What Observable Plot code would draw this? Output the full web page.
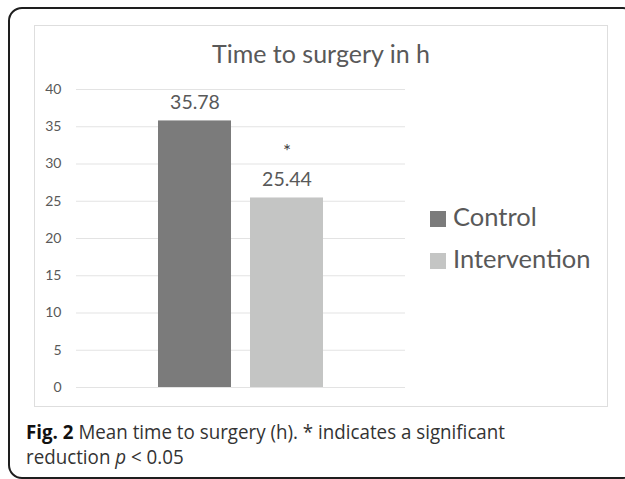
<!DOCTYPE html>
<html>
<head>
<meta charset="utf-8">
<script src="https://cdn.jsdelivr.net/npm/d3@7"></script>
<script src="https://cdn.jsdelivr.net/npm/@observablehq/plot@0.6"></script>
<style>
  html, body { margin: 0; padding: 0; background: #fff; }
  body { width: 625px; height: 479px; overflow: hidden; position: relative; }
  #outer { position: absolute; left: 8px; top: 7px; width: 629px; height: 472px; box-sizing: border-box;
           border: 2px solid #1e1e1e; border-radius: 14px; }
  #inner { position: absolute; left: 34px; top: 25px; width: 574px; height: 382px; box-sizing: border-box;
           border: 1px solid #dedede; background: #fff; }
  #title { position: absolute; left: 34px; top: 38px; width: 574px; text-align: center;
           font-family: Lato, sans-serif; font-size: 25px; line-height: 30px; color: #595959; white-space: nowrap; }
  #chart { position: absolute; left: 34px; top: 25px; }
  .leg { position: absolute; left: 430px; height: 30px; font-family: Lato, sans-serif; font-size: 25.5px;
         line-height: 30px; color: #595959; white-space: nowrap; }
  .sw { position: absolute; left: 0; top: 10px; width: 16px; height: 16px; }
  .lt { position: absolute; left: 23px; top: 0; }
  #caption { position: absolute; left: 26px; top: 419px; font-family: "Open Sans", sans-serif;
             font-size: 20px; line-height: 25px; color: #333; white-space: nowrap; transform-origin: 0 0; }
  #caption b { color: #111; font-weight: 700; }
</style>
</head>
<body>
<div id="outer"></div>
<div id="inner"></div>
<div id="title"></div>
<div id="chart"></div>
<div id="legend"></div>
<div id="caption"><span id="cap1"><b>Fig. 2</b> Mean time to surgery (h). * indicates a significant</span><br>reduction <i>p</i> &lt; 0.05</div>
<script>
const titleText = "Time to surgery in h";
const categories = ["Control", "Intervention"];
const values = [35.78, 25.44];
const markers = ["", "*"];
const colors = ["#7b7b7b", "#c4c5c4"];
const yTicks = [0, 5, 10, 15, 20, 25, 30, 35, 40];

document.getElementById("title").textContent = titleText;

const data = categories.map((c, i) => ({category: c, value: values[i], marker: markers[i]}));

const chart = Plot.plot({
  width: 380,
  height: 382,
  marginLeft: 42,
  marginRight: 9,
  marginTop: 64,
  marginBottom: 20,
  style: {fontFamily: "Lato, sans-serif", background: "transparent", overflow: "visible"},
  x: {domain: categories, paddingInner: 0.204, paddingOuter: 0.871, axis: null},
  y: {domain: [0, 40]},
  color: {domain: categories, range: colors},
  marks: [
    Plot.gridY(yTicks, {stroke: "#e3e3e3", strokeOpacity: 1, strokeWidth: 1}),
    Plot.axisY(yTicks, {tickSize: 0, tickPadding: 15, fontSize: 14, fill: "#595959", label: null, fontFamily: "Lato, sans-serif"}),
    Plot.barY(data, {x: "category", y: "value", fill: "category"}),
    Plot.text(data, {x: "category", y: "value", text: d => d.value.toFixed(2), dy: -18, fontSize: 19.5, fill: "#595959"}),
    Plot.text(data, {x: "category", y: "value", text: "marker", dy: -46, fontSize: 19, fill: "#404040"})
  ]
});
document.getElementById("chart").appendChild(chart);

const legend = document.getElementById("legend");
categories.forEach((c, i) => {
  const item = document.createElement("div");
  item.className = "leg";
  item.style.top = (201 + i * 42) + "px";
  const sw = document.createElement("span");
  sw.className = "sw";
  sw.style.background = colors[i];
  const lt = document.createElement("span");
  lt.className = "lt";
  lt.textContent = c;
  item.appendChild(sw);
  item.appendChild(lt);
  legend.appendChild(item);
});

// condense caption horizontally to match the reference's condensed typeface
const cap = document.getElementById("caption");
const w1 = document.getElementById("cap1").getBoundingClientRect().width;
cap.style.transform = `scaleX(${479 / w1})`;
</script>
</body>
</html>
